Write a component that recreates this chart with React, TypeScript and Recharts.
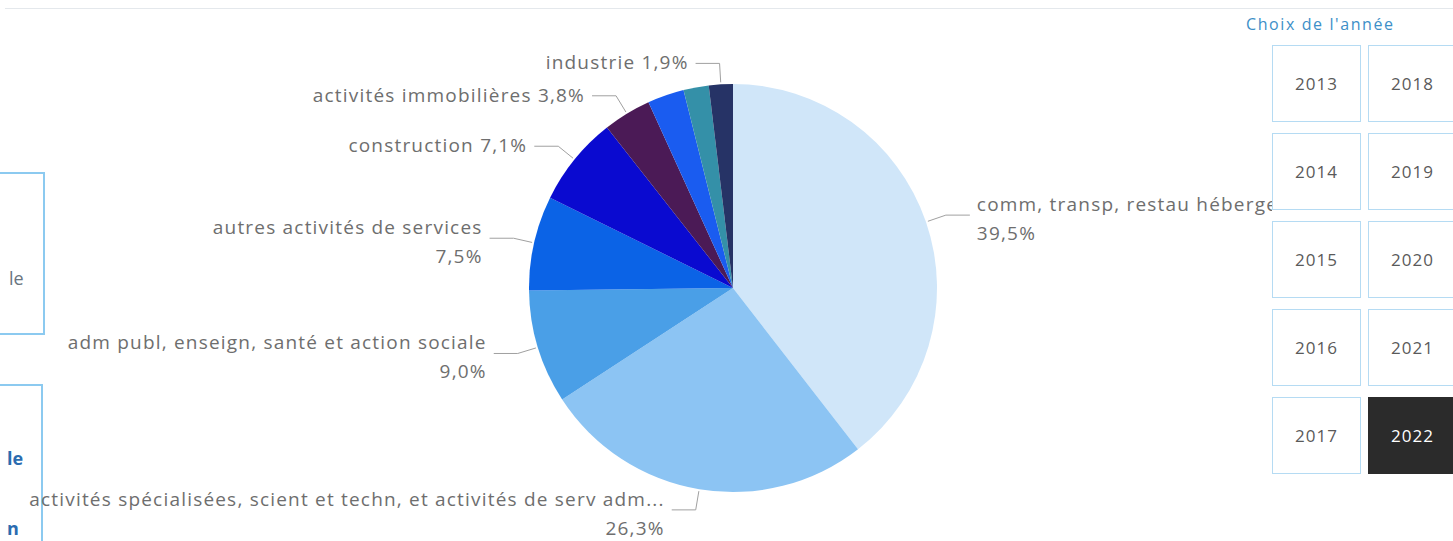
import React from "react"
import { PieChart, Pie, Cell } from "recharts"

// secteurs d'activité, parts en %
const sectors = [
  "comm, transp, restau hébergement",
  "activités spécialisées, scient et techn, et activités de serv adm et de soutien",
  "adm publ, enseign, santé et action sociale",
  "autres activités de services",
  "construction",
  "activités immobilières",
  "activités financières et d'assurance",
  "information et communication",
  "industrie",
]
const shares = [39.5, 26.3, 9.0, 7.5, 7.1, 3.8, 2.9, 2.0, 1.9]

// secteurs sans étiquette (masquées par Power BI faute de place)
const unlabeled = ["activités financières et d'assurance", "information et communication"]

const years = [2013, 2014, 2015, 2016, 2017, 2018, 2019, 2020, 2021, 2022]
const selectedYear = 2022

const palette = ["#d0e6f9", "#8cc4f3", "#4a9fe7", "#0b63e6", "#0a0ad0", "#4b1a56", "#1a5cf0", "#3490a8", "#263366"]

const data = sectors.map((name, i) => ({ name, value: shares[i] }))

const FONT = "'Open Sans', 'Noto Sans', sans-serif"
const RAD = Math.PI / 180

const renderLabel = (props: any) => {
  const { cx, cy, midAngle, outerRadius, index } = props
  const name: string = sectors[index]
  if (unlabeled.includes(name)) return null
  const cos = Math.cos(-midAngle * RAD)
  const sin = Math.sin(-midAngle * RAD)
  const sx = cx + (outerRadius + 2) * cos
  const sy = cy + (outerRadius + 2) * sin
  const mx = cx + (outerRadius + 21) * cos
  const my = cy + (outerRadius + 21) * sin
  const dir = cos >= 0 ? 1 : -1
  const ex = mx + dir * 24
  const tx = ex + dir * 7
  const anchor = dir > 0 ? "start" : "end"
  const pct = shares[index].toFixed(1).replace(".", ",") + "%"
  const label = name.length > 65 ? name.slice(0, 65) + "..." : name
  const twoLines = label.length > 24
  const textProps = { textAnchor: anchor, fill: "#6e6e6e", fontSize: 19, letterSpacing: 1.2, fontFamily: FONT } as any

  return (
    <g>
      <polyline points={`${sx},${sy} ${mx},${my} ${ex},${my}`} fill="none" stroke="#a0a0a0" strokeWidth={1} />
      {twoLines ? (
        <text x={tx} y={my} {...textProps}>
          <tspan x={tx} dy={-4}>{label}</tspan>
          <tspan x={tx} dy={29}>{pct}</tspan>
        </text>
      ) : (
        <text x={tx} y={my + 6} {...textProps}>
          {label} {pct}
        </text>
      )}
    </g>
  )
}

function YearSlicer() {
  const rows = years.length / 2
  return (
    <div style={{ position: "absolute", left: 1240, top: 10, width: 220, height: 480, fontFamily: FONT, zIndex: 5 }}>
      <div style={{ position: "absolute", left: 6, top: 3, fontSize: 16, letterSpacing: 1.6, color: "#3d8fc8" }}>
        Choix de l'année
      </div>
      <div style={{ position: "absolute", left: 32, top: 35, width: 190, height: 430, background: "#fff" }} />
      {years.map((y, i) => {
        const col = Math.floor(i / rows)
        const row = i % rows
        const selected = y === selectedYear
        return (
          <div
            key={y}
            style={{
              position: "absolute",
              left: 32 + col * 96,
              top: 35 + row * 88,
              width: 89,
              height: 77,
              boxSizing: "border-box",
              border: selected ? "1.5px solid #2b2b2b" : "1.5px solid #b5dbf3",
              background: selected ? "#2b2b2b" : "#fff",
              color: selected ? "#fff" : "#5a5a5a",
              fontSize: 17,
              letterSpacing: 1,
              display: "flex",
              alignItems: "center",
              justifyContent: "center",
            }}
          >
            {y}
          </div>
        )
      })}
    </div>
  )
}

export default function App() {
  return (
    <div style={{ position: "absolute", left: 0, top: 0, width: 1453, height: 541, overflow: "hidden", background: "#fff" }}>
      <div style={{ position: "absolute", left: 5, right: 0, top: 8, height: 1, background: "#e4e8ec" }} />

      {/* boutons coupés à gauche */}
      <div style={{ position: "absolute", left: -20, top: 172, width: 65, height: 163, boxSizing: "border-box", border: "2px solid #8ccaf0" }} />
      <div style={{ position: "absolute", left: 9, top: 266, fontFamily: FONT, fontSize: 18, color: "#6a7580" }}>le</div>
      <div style={{ position: "absolute", left: -20, top: 384, width: 63, height: 200, boxSizing: "border-box", border: "2px solid #8ccaf0" }} />

      <div style={{ position: "absolute", left: 0, top: 0, zIndex: 1 }}>
        <PieChart width={1453} height={541} margin={{ top: 0, right: 0, bottom: 0, left: 0 }}>
          <Pie
            data={data}
            dataKey="value"
            nameKey="name"
            cx={733}
            cy={288}
            outerRadius={204}
            startAngle={90}
            endAngle={-270}
            stroke="none"
            label={renderLabel}
            labelLine={false}
            isAnimationActive={false}
          >
            {data.map((d, i) => (
              <Cell key={d.name} fill={palette[i]} />
            ))}
          </Pie>
        </PieChart>
      </div>

      <div style={{ position: "absolute", left: 7, top: 446, fontFamily: FONT, fontSize: 18, fontWeight: 700, color: "#2b6cb0", zIndex: 2 }}>le</div>
      <div style={{ position: "absolute", left: 7, top: 516, fontFamily: FONT, fontSize: 18, fontWeight: 700, color: "#2b6cb0", zIndex: 2 }}>n</div>

      <YearSlicer />
    </div>
  )
}
